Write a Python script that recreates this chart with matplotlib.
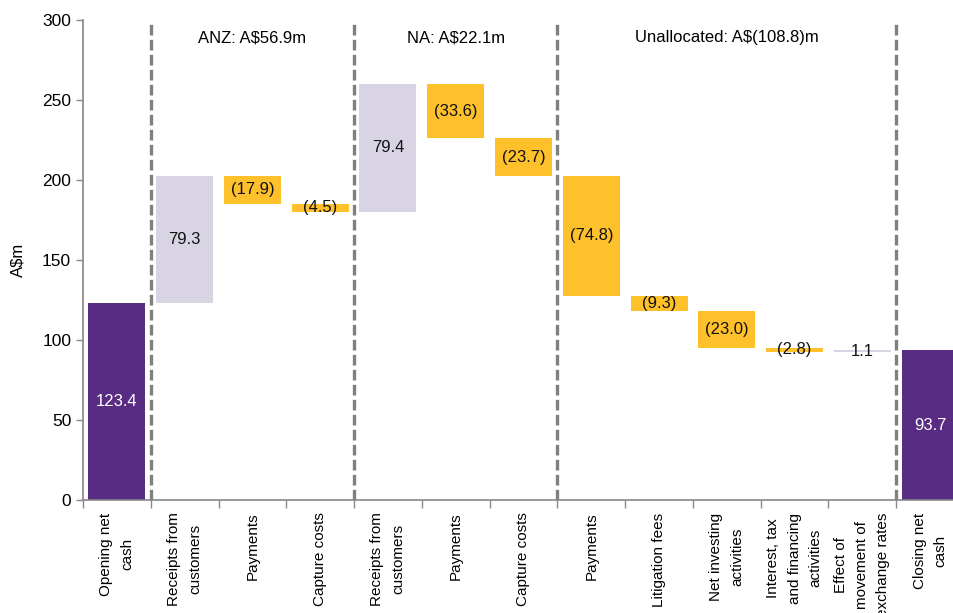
import numpy as np
import matplotlib.pyplot as plt

plt.rcParams['font.family'] = ['Liberation Sans', 'DejaVu Sans']

labels = ["Opening net\ncash", "Receipts from\ncustomers", "Payments", "Capture costs",
          "Receipts from\ncustomers", "Payments", "Capture costs",
          "Payments", "Litigation fees", "Net investing\nactivities",
          "Interest, tax\nand financing\nactivities",
          "Effect of\nmovement of\nexchange rates", "Closing net\ncash"]
values = [123.4, 79.3, -17.9, -4.5, 79.4, -33.6, -23.7, -74.8, -9.3, -23.0, -2.8, 1.1, 93.7]
kinds = ["total", "up", "down", "down", "up", "down", "down",
         "down", "down", "down", "down", "up", "total"]
section_names = ["ANZ: A$56.9m", "NA: A$22.1m", "Unallocated: A$(108.8)m"]
section_bounds = [(0.5, 3.5), (3.5, 6.5), (6.5, 11.5)]

purple = "#582C83"
lilac = "#D9D4E3"
gold = "#FFC12B"

fig = plt.figure(figsize=(9.54, 6.13), dpi=100)
ax = fig.add_axes([83/954, 113/613, 881/954, 480/613])

x = np.arange(len(values))
bottoms = []
running = 0
for v, k in zip(values, kinds):
    if k == "total":
        bottoms.append(0)
        running = v
    elif v >= 0:
        bottoms.append(running)
        running += v
    else:
        running += v
        bottoms.append(running)
heights = [abs(v) for v in values]
colors = [purple if k == "total" else (lilac if k == "up" else gold) for k in kinds]

ax.bar(x, heights, bottom=bottoms, width=0.84, color=colors, zorder=2)

for xi, b, h, v, k in zip(x, bottoms, heights, values, kinds):
    txt = f"{v:.1f}" if v >= 0 else f"({abs(v):.1f})"
    ax.text(xi, b + h / 2, txt, ha="center", va="center", fontsize=12,
            color="white" if k == "total" else "#111111", zorder=3)

# section separators
for bx in [0.5, 3.5, 6.5, 11.5]:
    ax.plot([bx, bx], [0, 300], color="#808080", lw=2.4, ls=(0, (3.2, 1.3)),
            zorder=1, clip_on=False)

for name, (a, b) in zip(section_names, section_bounds):
    ax.text((a + b) / 2, 289, name, ha="center", va="center", fontsize=12)

ax.set_xlim(-0.5, len(values) - 0.5)
ax.set_ylim(0, 300)
ax.set_yticks(np.arange(0, 301, 50))
ax.tick_params(axis="y", labelsize=12.5, length=5, color="#888888", width=1)
ax.set_ylabel("A$m", fontsize=12, labelpad=12)

ax.set_xticks(x)
ax.set_xticklabels(labels, rotation=90, fontsize=11, va="top", ha="center",
                   linespacing=1.65)
ax.tick_params(axis="x", length=0, pad=9)
ax.set_xticks(np.arange(-0.5, len(values), 1), minor=True)
ax.tick_params(axis="x", which="minor", length=6, color="#888888", width=1)

for s in ["top", "right"]:
    ax.spines[s].set_visible(False)
for s in ["left", "bottom"]:
    ax.spines[s].set_color("#888888")
    ax.spines[s].set_linewidth(1.2)

fig.savefig("out.png", dpi=100)
